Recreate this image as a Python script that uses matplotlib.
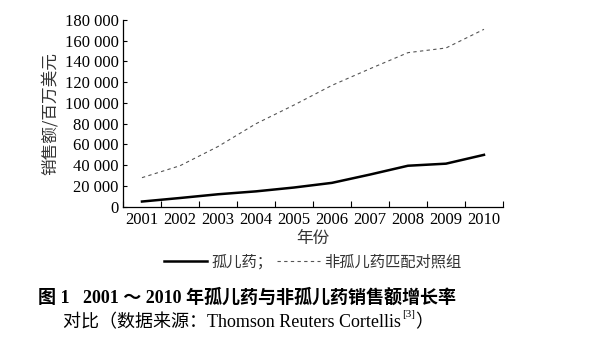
import matplotlib
matplotlib.use("Agg")
import matplotlib.pyplot as plt
from matplotlib.ticker import FuncFormatter, FixedLocator
import numpy as np

years = [2001, 2002, 2003, 2004, 2005, 2006, 2007, 2008, 2009, 2010]
orphan = [5000, 8400, 12000, 14800, 18500, 23000, 31000, 39500, 41500, 50000]
non_orphan = [28000, 39500, 58000, 80000, 98000, 117000, 133000, 148500, 153000, 171000]
yticks = [0, 20000, 40000, 60000, 80000, 100000, 120000, 140000, 160000, 180000]

FAM = ["Liberation Serif", "Noto Sans CJK SC"]
plt.rcParams["font.family"] = FAM
plt.rcParams["axes.unicode_minus"] = False

fig = plt.figure(figsize=(5.97, 3.53), dpi=100)
ax = fig.add_axes([0.206, 0.4144, 0.6365, 0.529])

x = np.arange(len(years)) + 0.5
ax.plot(x, orphan, color="black", lw=1.8, label="孤儿药；")
ax.plot(x, non_orphan, color="#555555", lw=0.8, ls=(0, (3, 3)), label="非孤儿药匹配对照组")

ax.set_xlim(0, len(years))
ax.set_ylim(0, 180000)
ax.xaxis.set_major_locator(FixedLocator(np.arange(len(years) + 1)))
ax.xaxis.set_minor_locator(FixedLocator(x))
ax.set_xticklabels([])
ax.set_xticklabels([str(y) for y in years], minor=True)
ax.tick_params(axis="x", which="major", direction="in", length=4, width=0.8)
ax.tick_params(axis="x", which="minor", length=0, labelsize=12, pad=4)
ax.set_yticks(yticks)
ax.yaxis.set_major_formatter(FuncFormatter(lambda v, p: f"{int(v):,}".replace(",", " ")))
ax.tick_params(axis="y", direction="in", length=3, width=0.8, labelsize=12, pad=3)

for s in ("top", "right"):
    ax.spines[s].set_visible(False)
for s in ("left", "bottom"):
    ax.spines[s].set_linewidth(0.9)

ax.set_xlabel("年份", fontsize=12, family=["Noto Sans CJK SC"], labelpad=1, color="#333333")
ax.set_ylabel("销售额/百万美元", fontsize=12, family=["Noto Sans CJK SC"], labelpad=4, color="#333333")

leg = ax.legend(loc="upper center", bbox_to_anchor=(0.5, -0.175), ncol=2, frameon=False,
                handlelength=2.8, columnspacing=0.3, handletextpad=0.3,
                prop={"family": ["Noto Sans CJK SC"], "size": 11})
for t in leg.get_texts():
    t.set_color("#333333")

fig.text(0.063, 0.158, "图 1   2001 ～ 2010 年孤儿药与非孤儿药销售额增长率",
         fontsize=13, fontweight="bold", va="center", ha="left", family=FAM)

# second caption line: plain text + raised reference mark + closing bracket
t1 = fig.text(0.105, 0.085, "对比（数据来源：Thomson Reuters Cortellis",
              fontsize=13, va="center", ha="left", family=FAM)
fig.canvas.draw()
r = fig.canvas.get_renderer()
bb = t1.get_window_extent(r).transformed(fig.transFigure.inverted())
t2 = fig.text(bb.x1 + 0.002, 0.085 + 0.025, "[3]", fontsize=8, va="center", ha="left", family=FAM)
bb2 = t2.get_window_extent(r).transformed(fig.transFigure.inverted())
fig.text(bb2.x1, 0.085, "）", fontsize=13, va="center", ha="left", family=FAM)

fig.savefig("out.png", dpi=100)
